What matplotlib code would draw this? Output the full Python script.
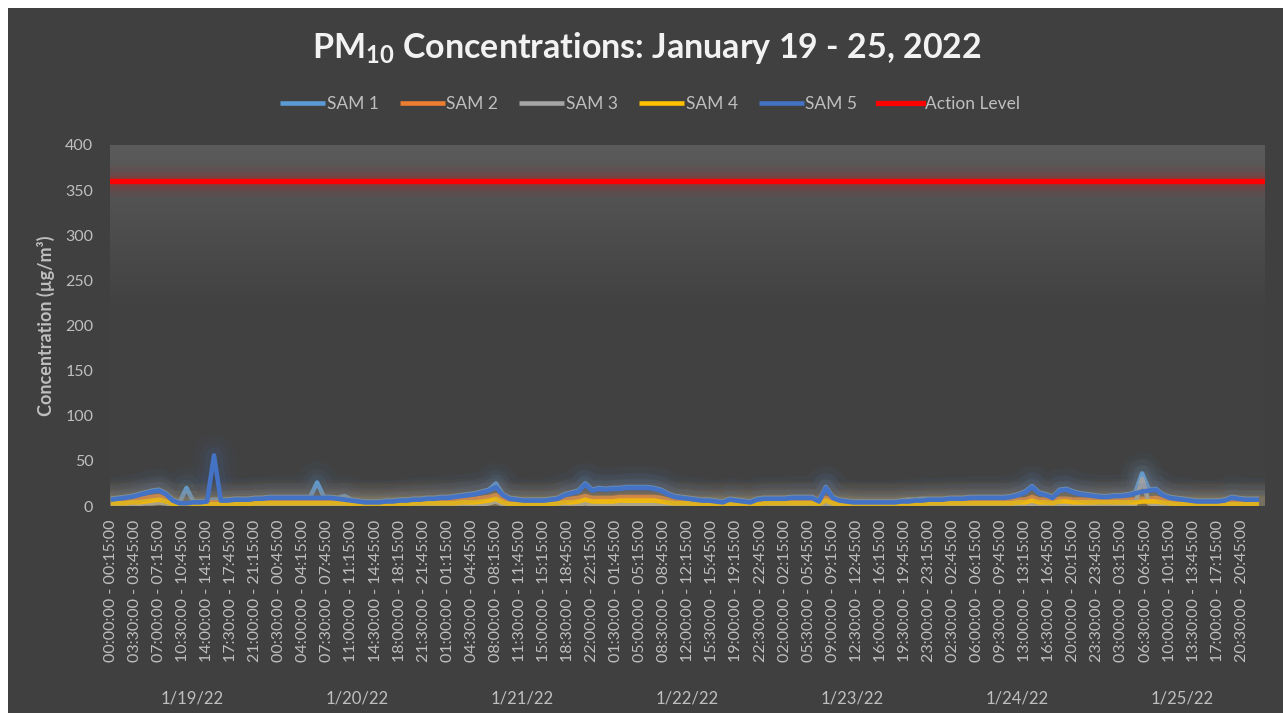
import matplotlib
matplotlib.use("Agg")
import matplotlib.pyplot as plt
import matplotlib.transforms as mtransforms
from matplotlib.colors import LinearSegmentedColormap
from matplotlib.patches import Rectangle
import numpy as np
import pandas as pd

# categories: 15 minute intervals over 7 days
start_times = pd.date_range("2022-01-19 00:00", periods=672, freq="15min")
interval_labels = [f"{t:%H:%M:%S} - {(t + pd.Timedelta(minutes=15)):%H:%M:%S}" for t in start_times]
day_labels = ["1/19/22", "1/20/22", "1/21/22", "1/22/22", "1/23/22", "1/24/22", "1/25/22"]

# hourly readings (ug/m3), one row per day
sam1 = [
    8, 9, 10, 11, 13, 15, 17, 18, 14, 7, 4, 20, 5, 5, 6, 7, 7, 7, 8, 8, 8, 9, 9, 10,
    10, 10, 10, 10, 10, 10, 26, 10, 10, 9, 11, 7, 6, 5, 5, 5, 6, 6, 7, 7, 8, 8, 9, 9,
    10, 10, 11, 12, 13, 14, 16, 18, 25, 13, 9, 8, 7, 7, 7, 7, 8, 9, 13, 15, 17, 25, 18, 20,
    19, 20, 20, 21, 21, 21, 21, 20, 18, 14, 11, 10, 9, 8, 7, 7, 6, 5, 8, 7, 6, 5, 8, 9,
    9, 9, 9, 10, 10, 10, 10, 6, 21, 10, 7, 6, 5, 5, 5, 5, 5, 5, 5, 6, 7, 7, 8, 8,
    8, 8, 9, 9, 9, 10, 10, 10, 10, 10, 10, 11, 13, 16, 22, 15, 13, 10, 18, 19, 16, 14, 13, 12,
    11, 11, 12, 12, 13, 15, 36, 18, 19, 13, 10, 9, 8, 7, 6, 6, 6, 6, 7, 10, 9, 8, 8, 8,
]
sam2 = [
    6, 6, 6, 7, 8, 9, 10, 11, 8, 4, 3, 3, 3, 3, 4, 4, 4, 4, 5, 5, 5, 5, 6, 6,
    6, 6, 6, 6, 6, 6, 6, 6, 6, 6, 5, 5, 4, 4, 4, 4, 4, 4, 5, 5, 5, 6, 6, 6,
    6, 6, 6, 7, 7, 8, 9, 10, 12, 7, 4, 4, 4, 4, 4, 4, 5, 6, 7, 8, 9, 11, 9, 9,
    9, 9, 10, 10, 10, 10, 10, 10, 9, 7, 5, 5, 5, 4, 4, 4, 4, 4, 4, 4, 4, 4, 4, 5,
    5, 5, 5, 5, 5, 5, 5, 4, 9, 5, 4, 4, 4, 3, 3, 3, 3, 3, 3, 4, 4, 4, 4, 5,
    5, 5, 5, 5, 5, 5, 5, 5, 5, 5, 5, 6, 7, 7, 10, 7, 7, 6, 8, 8, 7, 7, 7, 7,
    7, 7, 7, 7, 7, 7, 8, 8, 9, 7, 5, 5, 4, 4, 4, 4, 4, 4, 4, 4, 4, 4, 4, 4,
]
sam3 = [
    1, 1, 2, 2, 2, 3, 3, 4, 3, 1, 1, 1, 1, 1, 1, 1, 1, 1, 1, 1, 1, 1, 1, 1,
    1, 1, 1, 1, 1, 1, 1, 1, 1, 1, 1, 1, 1, 1, 1, 1, 1, 1, 1, 1, 1, 1, 1, 1,
    1, 1, 1, 1, 2, 2, 2, 3, 5, 2, 1, 1, 1, 1, 1, 1, 1, 1, 2, 2, 2, 3, 2, 2,
    2, 2, 2, 2, 2, 2, 2, 2, 2, 1, 1, 1, 1, 1, 1, 1, 1, 1, 1, 1, 1, 1, 1, 1,
    1, 1, 1, 1, 1, 1, 1, 1, 3, 1, 1, 1, 1, 1, 1, 1, 1, 1, 1, 1, 1, 1, 1, 1,
    1, 1, 1, 1, 1, 1, 1, 1, 1, 1, 1, 1, 1, 1, 2, 1, 1, 1, 2, 2, 1, 1, 1, 1,
    1, 1, 1, 1, 2, 2, 30, 3, 2, 1, 1, 1, 1, 1, 1, 1, 1, 1, 1, 1, 1, 1, 1, 1,
]
sam4 = [
    3, 3, 3, 4, 4, 5, 6, 7, 5, 2, 1, 1, 1, 1, 2, 2, 2, 2, 2, 2, 2, 3, 3, 3,
    3, 3, 3, 3, 3, 3, 3, 3, 3, 3, 3, 2, 2, 2, 2, 2, 2, 2, 2, 2, 3, 3, 3, 3,
    3, 3, 3, 4, 4, 4, 5, 6, 8, 4, 2, 2, 2, 2, 2, 2, 2, 3, 4, 4, 5, 7, 5, 5,
    5, 5, 6, 6, 6, 6, 6, 6, 5, 4, 3, 3, 3, 2, 2, 2, 2, 2, 2, 2, 2, 2, 2, 3,
    3, 3, 3, 3, 3, 3, 3, 2, 6, 3, 2, 2, 2, 1, 1, 1, 1, 1, 1, 2, 2, 2, 2, 3,
    3, 3, 3, 3, 3, 3, 3, 3, 3, 3, 3, 3, 4, 4, 6, 4, 4, 3, 5, 5, 4, 4, 4, 4,
    4, 4, 4, 4, 4, 4, 5, 5, 5, 4, 3, 2, 2, 2, 2, 2, 2, 2, 2, 2, 2, 2, 2, 2,
]
sam5 = [
    7, 8, 9, 10, 12, 14, 16, 17, 13, 6, 3, 3, 4, 4, 5, 56, 6, 6, 7, 7, 7, 8, 8, 9,
    9, 9, 9, 9, 9, 9, 9, 9, 9, 8, 7, 6, 5, 4, 4, 4, 5, 5, 6, 6, 7, 7, 8, 8,
    9, 9, 10, 11, 12, 13, 15, 17, 21, 12, 8, 7, 6, 6, 6, 6, 7, 8, 12, 14, 16, 24, 17, 19,
    18, 19, 19, 20, 20, 20, 20, 19, 17, 13, 10, 9, 8, 7, 6, 6, 5, 4, 7, 6, 5, 4, 7, 8,
    8, 8, 8, 9, 9, 9, 9, 5, 20, 9, 6, 5, 4, 4, 4, 4, 4, 4, 4, 5, 5, 6, 6, 7,
    7, 7, 8, 8, 8, 9, 9, 9, 9, 9, 9, 10, 12, 15, 21, 14, 12, 9, 17, 18, 15, 13, 12, 11,
    10, 10, 11, 11, 12, 14, 16, 17, 18, 12, 9, 8, 7, 6, 5, 5, 5, 5, 6, 9, 8, 7, 7, 7,
]
action_level = 360

series_names = ["SAM 1", "SAM 2", "SAM 3", "SAM 4", "SAM 5"]
series_colors = ["#5B9BD5", "#ED7D31", "#A5A5A5", "#FFC000", "#4472C4"]

plt.rcParams["font.family"] = ["Lato", "DejaVu Sans"]
plt.rcParams["mathtext.default"] = "regular"

W, H = 1283, 713
fig = plt.figure(figsize=(W / 100, H / 100), dpi=100, facecolor="#404040")
# thin white margin on the left and top edges
fig.patches.append(Rectangle((0, 0), 8 / W, 1, transform=fig.transFigure,
                             facecolor="white", edgecolor="none", zorder=-10))
fig.patches.append(Rectangle((0, 1 - 8 / H), 1, 8 / H, transform=fig.transFigure,
                             facecolor="white", edgecolor="none", zorder=-10))

ax = fig.add_axes([110 / W, 1 - 506 / H, (1265 - 110) / W, (506 - 145) / H])
ax.set_facecolor("#404040")

# plot area gradient (lighter at top)
cmap = LinearSegmentedColormap.from_list("bg", ["#414141", "#424242", "#5b5b5b"])
grad = np.linspace(0, 1, 256).reshape(-1, 1) ** 1.2
ax.imshow(grad, extent=[0, 1, 0, 1], transform=ax.transAxes, cmap=cmap,
          aspect="auto", origin="lower", zorder=0, interpolation="bilinear")

hour_pos = np.arange(len(sam5)) * 4


def glow_plot(x, y, color, label, z):
    # soft halo like the excel glow effect
    for w, a in [(30, 0.035), (20, 0.055), (12, 0.09)]:
        ax.plot(x, y, color=color, lw=w, alpha=a, zorder=z, solid_joinstyle="round")
    ax.plot(x, y, color=color, lw=3.3, zorder=z + 0.5, label=label,
            solid_joinstyle="round", solid_capstyle="butt")


for i, (name, vals, col) in enumerate(zip(series_names, [sam1, sam2, sam3, sam4, sam5], series_colors)):
    glow_plot(hour_pos, vals, col, name, 2 + i)

# action level
for w, a in [(22, 0.05), (14, 0.08), (8, 0.12)]:
    ax.axhline(action_level, color="#FF0000", lw=w, alpha=a, zorder=9)
ax.axhline(action_level, color="#FF0000", lw=3.8, zorder=10, label="Action Level")

ax.set_xlim(-0.5, len(interval_labels) - 0.5)
ax.set_ylim(0, 400)
ax.set_yticks(np.arange(0, 401, 50))
tick_idx = np.arange(0, len(interval_labels), 14)
ax.set_xticks(tick_idx)
ax.set_xticklabels([interval_labels[i] for i in tick_idx], rotation=90)
ax.tick_params(axis="x", length=0, pad=10, labelsize=11.5, labelcolor="#BFBFBF")
ax.tick_params(axis="y", length=0, pad=12, labelsize=11.5, labelcolor="#BFBFBF")
for s in ax.spines.values():
    s.set_visible(False)

# date group labels under the time labels
trans = mtransforms.blended_transform_factory(ax.transData, ax.transAxes)
for d, lab in enumerate(day_labels):
    ax.text(d * 96 + 47.5, (506 - 698) / 361, lab, transform=trans, ha="center", va="center",
            fontsize=12, color="#BFBFBF")

ax.set_ylabel("Concentration (µg/m³)", fontsize=13, fontweight="bold", color="#BFBFBF")
ax.yaxis.set_label_coords(-(110 - 55) / (1265 - 110), (506 - 326) / 361)

fig.text(647 / W, 1 - 48 / H, "PM$_{10}$ Concentrations: January 19 - 25, 2022",
         ha="center", va="center", fontsize=24.5, fontweight="bold", color="#F2F2F2")

handles, labels = ax.get_legend_handles_labels()
leg = fig.legend(handles, labels, loc="center", bbox_to_anchor=(650 / W, 1 - 104 / H),
                 ncol=6, frameon=False, fontsize=12.5, handlelength=2.6, handletextpad=0.1,
                 columnspacing=1.2, labelcolor="#BFBFBF")

fig.savefig("out.png", dpi=100, facecolor=fig.get_facecolor())
